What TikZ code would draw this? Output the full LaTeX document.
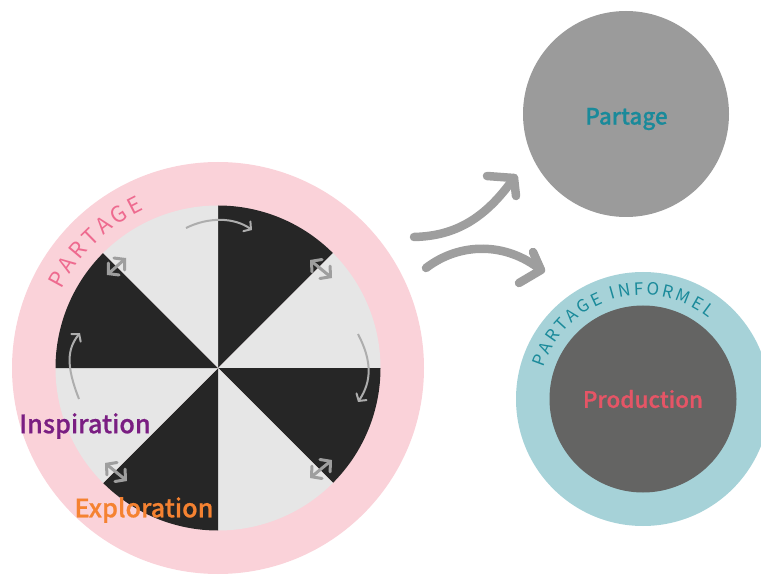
\documentclass[tikz,border=0pt]{standalone}
\usepackage{fontspec}
\setmainfont{Noto Sans CJK SC}
\newfontfamily\semifont[FakeBold=0.7]{Noto Sans CJK SC Medium}
\usetikzlibrary{arrows.meta,decorations.text,calc}
\definecolor{pinkring}{HTML}{FAD2D9}
\definecolor{pinktext}{HTML}{EE6A8F}
\definecolor{lightw}{HTML}{E6E6E6}
\definecolor{darkw}{HTML}{262626}
\definecolor{greyc}{HTML}{9B9B9B}
\definecolor{tealring}{HTML}{A6D2D8}
\definecolor{tealtext}{HTML}{1A8A9A}
\definecolor{darkc}{HTML}{646463}
\definecolor{redtext}{HTML}{E55566}
\definecolor{purpletext}{HTML}{7A1E82}
\definecolor{orangetext}{HTML}{F58231}
\definecolor{arrowgrey}{HTML}{9E9E9E}
\tikzset{
  disc/.style={circle,inner sep=0pt,outer sep=0pt,minimum size=#1},
  biglabel/.style={inner sep=0pt,font=\semifont\fontsize{#1}{#1}\selectfont},
  bigarrow/.style={draw=arrowgrey,line width=8.5pt,line cap=round,line join=round},
  dbl/.style={draw=arrowgrey,line width=3pt,{Straight Barb[length=7pt,width=16pt,line cap=round]}-{Straight Barb[length=7pt,width=16pt,line cap=round]}},
  thin/.style={draw=#1,line width=2pt,-{Straight Barb[length=5pt,width=12pt,line cap=round]}},
}
\begin{document}
\begin{tikzpicture}[x=1pt,y=1pt]
\useasboundingbox (0,0) rectangle (761,574);
\clip (0,0) rectangle (761,574);
% big wheel
\node[disc=412pt,fill=pinkring] (ring) at (218,206) {};
\coordinate (w) at (218,206);
\foreach \a/\c in {90/darkw,45/lightw,0/darkw,-45/lightw,-90/darkw,-135/lightw,-180/darkw,-225/lightw}{
  \fill[\c] (w) -- ($(w)+(\a:162.5)$) arc[start angle=\a,delta angle=-45,radius=162.5] -- cycle;
}
% curved text on the ring
\path[decorate,decoration={text along path,text align={fit to path},
  text={|\fontsize{22}{22}\selectfont\color{pinktext}|PARTAGE}}]
  ($(w)+(153.5:175)$) arc[start angle=153.5,end angle=115,radius=175];
% small double arrows
\coordinate (a1s) at (107,299); \coordinate (a1e) at (126,316);
\coordinate (a2s) at (310,314); \coordinate (a2e) at (332,296);
\coordinate (a3s) at (105,111); \coordinate (a3e) at (127,93);
\coordinate (a4s) at (310,96);  \coordinate (a4e) at (332,114);
\draw[dbl] (a1s) -- (a1e);
\draw[dbl] (a2s) -- (a2e);
\draw[dbl] (a3s) -- (a3e);
\draw[dbl] (a4s) -- (a4e);
% thin curved arrows
\coordinate (t1s) at (186,346); \coordinate (t1e) at (252,344);
\coordinate (t2s) at (358,240); \coordinate (t2e) at (358,172);
\coordinate (t3s) at (79,175);  \coordinate (t3e) at (80,241);
\draw[thin=arrowgrey!85!white] (t1s) .. controls (208,357) and (234,357) .. (t1e);
\draw[thin=arrowgrey!85!white] (t2s) .. controls (372,213) and (372,193) .. (t2e);
\draw[thin=arrowgrey!85!white] (t3s) .. controls (66,208) and (67,225) .. (t3e);
% wheel labels
\node[biglabel=25.3,text=purpletext] (insp) at (85,148) {Inspiration};
\node[biglabel=25.3,text=orangetext] (expl) at (144,64) {Exploration};
% top right disc
\node[disc=206pt,fill=greyc] (share) at (626,460) {};
\node[biglabel=22.5,text=tealtext] (sharel) at (626.5,455) {Partage};
% bottom right discs
\node[disc=254pt,fill=tealring] (outerp) at (643,175) {};
\node[disc=187pt,fill=darkc] (prod) at (643,175) {};
\node[biglabel=22.5,text=redtext] (prodl) at (643,175) {Production};
\path[decorate,decoration={text along path,text align={fit to path},
  text={|\fontsize{17}{17}\selectfont\color{tealtext}|PARTAGE INFORMEL}}]
  ($(prod)+(162.5:104)$) arc[start angle=162.5,end angle=51,radius=104];
% big arrows
\coordinate (b1s) at (414,337); \coordinate (b1e) at (514,396);
\coordinate (b2s) at (426,306); \coordinate (b2e) at (541,304);
\draw[bigarrow] (b1s) .. controls (455,338) and (485,355) .. (b1e);
\draw[bigarrow] (487,398) -- (b1e) -- (516,378);
\draw[bigarrow] (b2s) .. controls (460,332) and (506,332) .. (b2e);
\draw[bigarrow] (533,322) -- (b2e) -- (519,291);
\end{tikzpicture}
\end{document}
